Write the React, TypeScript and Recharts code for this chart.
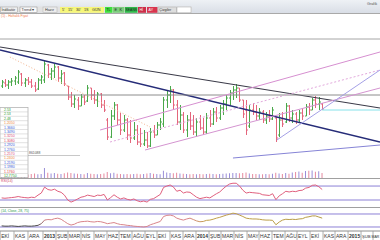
import React from "react";
import { ComposedChart, BarChart, LineChart, Bar, Line, XAxis, YAxis, ReferenceLine, Cell } from "recharts";

const W = 380;
const X_DOMAIN: [number, number] = [-0.5, 114.5];

const highs = [
  170, 171, 170, 172, 174, 180, 177, 172, 173, 171,
  168, 172, 175, 189, 186, 182, 186, 184, 180, 178,
  164, 158, 155, 153, 156, 155, 165, 162, 160, 158,
  157, 150, 132, 140, 148, 146, 137, 135, 132, 130,
  128, 125, 122, 120, 118, 122, 125, 128, 132, 153,
  160, 164, 161, 150, 145, 138, 135, 138, 135, 132,
  135, 132, 137, 140, 142, 143, 145, 150, 155, 160,
  164, 166, 162, 150, 150, 145, 147, 145, 142, 140,
  138, 140, 143, 133, 137, 138, 147, 145, 140, 138,
  140, 142, 146, 147, 152, 154, 153, 147,
];
const lows = [
  162, 163, 161, 164, 165, 166, 164, 163, 165, 162,
  158, 160, 166, 167, 172, 170, 172, 168, 166, 164,
  150, 143, 142, 140, 144, 145, 148, 150, 146, 143,
  142, 138, 110, 112, 130, 125, 115, 118, 110, 107,
  110, 105, 103, 104, 102, 103, 112, 115, 120, 123,
  142, 147, 140, 125, 120, 117, 113, 120, 115, 113,
  120, 115, 116, 123, 125, 128, 130, 135, 140, 145,
  150, 152, 148, 132, 115, 122, 135, 130, 130, 127,
  126, 128, 130, 108, 113, 123, 127, 128, 127, 126,
  128, 130, 134, 135, 140, 142, 140, 140,
];
const opens = [
  164, 167, 165, 168, 169, 168, 176, 167, 170, 168,
  164, 161, 170, 170, 185, 176, 179, 183, 172, 177,
  164, 153, 146, 150, 144, 153, 149, 162, 155, 150,
  156, 145, 130, 113, 134, 145, 130, 120, 130, 115,
  112, 120, 108, 106, 110, 104, 118, 115, 125, 126,
  150, 155, 160, 145, 128, 135, 120, 130, 124, 118,
  128, 122, 118, 132, 126, 138, 132, 142, 146, 152,
  157, 160, 162, 150, 140, 124, 140, 138, 134, 138,
  130, 134, 131, 132, 115, 130, 128, 144, 132, 136,
  130, 137, 134, 143, 140, 150, 146, 146,
];
const closes = [
  168, 165, 168, 169, 172, 178, 167, 170, 168, 164,
  160, 170, 173, 186, 176, 179, 183, 172, 176, 166,
  153, 146, 151, 144, 153, 148, 162, 155, 150, 156,
  145, 140, 113, 134, 145, 130, 120, 130, 115, 112,
  120, 108, 106, 110, 104, 118, 115, 125, 128, 150,
  155, 160, 145, 128, 135, 120, 130, 124, 118, 128,
  122, 118, 132, 126, 138, 132, 142, 146, 152, 157,
  160, 162, 150, 136, 120, 140, 138, 134, 138, 130,
  134, 131, 140, 112, 130, 126, 144, 132, 136, 130,
  137, 134, 143, 140, 150, 146, 148, 141,
];
const volumes = [
  330000, 310000, 350000, 300000, 340000, 420000, 360000, 320000, 300000, 340000,
  380000, 330000, 350000, 861088, 450000, 380000, 420000, 360000, 340000, 400000,
  480000, 440000, 380000, 360000, 350000, 330000, 420000, 360000, 340000, 330000,
  350000, 380000, 520000, 400000, 450000, 360000, 340000, 330000, 350000, 320000,
  340000, 360000, 330000, 350000, 380000, 420000, 360000, 340000, 330000, 620000,
  480000, 420000, 400000, 450000, 380000, 360000, 340000, 330000, 350000, 320000,
  340000, 330000, 350000, 360000, 340000, 330000, 350000, 360000, 380000, 400000,
  420000, 440000, 400000, 420000, 480000, 380000, 350000, 340000, 330000, 320000,
  340000, 330000, 360000, 460000, 380000, 350000, 420000, 360000, 480000, 520000,
  560000, 450000, 600000, 620000, 650000, 540000, 580000, 420000,
];
const rsiValues = [
  36, 35, 36, 37, 38, 40, 38, 37, 36, 38,
  37, 44, 50, 67, 60, 58, 61, 55, 52, 44,
  30, 24, 28, 33, 38, 40, 44, 42, 40, 44,
  43, 46, 30, 37, 45, 38, 33, 36, 32, 30,
  33, 28, 25, 27, 24, 32, 34, 40, 46, 66,
  70, 73, 67, 55, 58, 50, 53, 52, 45, 38,
  34, 36, 38, 36, 42, 48, 53, 62, 70, 76,
  78, 78, 70, 58, 50, 52, 51, 50, 49, 45,
  44, 43, 48, 31, 42, 48, 55, 53, 55, 54,
  57, 58, 64, 66, 72, 73, 68, 60,
];
const stochValues = [
  32, 31, 31, 32, 31, 30, 31, 32, 31, 31,
  32, 34, 40, 53, 55, 54, 58, 60, 56, 48,
  40, 35, 38, 44, 47, 48, 49, 47, 46, 48,
  47, 44, 40, 42, 44, 40, 37, 36, 34, 33,
  31, 30, 29, 28, 30, 36, 40, 44, 48, 66,
  70, 71, 68, 60, 56, 53, 57, 60, 55, 50,
  47, 48, 52, 53, 56, 60, 63, 67, 71, 74,
  78, 76, 71, 66, 60, 58, 57, 57, 56, 54,
  53, 53, 52, 36, 46, 53, 56, 55, 56, 55,
  57, 58, 63, 65, 68, 68, 64, 60,
];

const monthTicks = [
  -0.45, 3.74, 7.97, 12.51, 16.45, 20.08, 24.02, 27.95, 31.88, 35.52,
  39.45, 43.39, 47.02, 50.95, 54.89, 58.82, 62.76, 66.39, 70.32, 74.26,
  77.89, 81.82, 85.76, 89.39, 93.33, 97.26, 100.89, 104.83, 108.76, 112.39,
];
const monthLabels = [
  "EKİ", "KAS", "ARA", "2013", "ŞUB", "MAR", "NİS", "MAY", "HAZ", "TEM",
  "AĞU", "EYL", "EKİ", "KAS", "ARA", "2014", "ŞUB", "MAR", "NİS", "MAY",
  "HAZ", "TEM", "AĞU", "EYL", "EKİ", "KAS", "ARA", "2015", "ŞUB", "MAR",
];

const trendLines = [
  { id: "res1", from: [-0.5, 203], to: [114.5, 142] },
  { id: "res2", from: [-0.5, 200], to: [114.5, 108] },
  { id: "hTop", from: [-0.5, 211], to: [114.5, 211] },
  { id: "hMid", from: [-0.5, 155], to: [114.5, 155] },
  { id: "chUp", from: [29.8, 120], to: [114.5, 198] },
  { id: "chMid", from: [32.8, 108], to: [114.5, 180] },
  { id: "chLow", from: [43.4, 100], to: [114.5, 162] },
  { id: "steep", from: [83.3, 110], to: [114.5, 180] },
  { id: "flat", from: [70.0, 92], to: [114.5, 105] },
  { id: "dotOr", from: [2.5, 193], to: [44.9, 123] },
  { id: "last", from: [97, 140], to: [114.5, 140] },
];
const trendStyle: Record<string, { stroke: string; w: number; dash?: string }> = {
  res1: { stroke: "#3a3a48", w: 1.1 },
  res2: { stroke: "#262c78", w: 1.3 },
  hTop: { stroke: "#a6a6a6", w: 1 },
  hMid: { stroke: "#8c8c8c", w: 1 },
  chUp: { stroke: "#d68fd0", w: 1 },
  chMid: { stroke: "#e2a8dc", w: 1, dash: "2 2" },
  chLow: { stroke: "#d494d0", w: 1 },
  steep: { stroke: "#a4a0e6", w: 1 },
  flat: { stroke: "#8684d6", w: 1 },
  dotOr: { stroke: "#f3b48e", w: 1, dash: "1 2" },
  last: { stroke: "#86e2ea", w: 1 },
};

const tableValues = [
  "2.53", "2.53", "2.48", "1.2050", "1.3660", "1.3490", "1.3250", "1.3080",
  "1.2920", "1.2760", "1.2570", "1.2400", "1.2190", "1.1980", "1.1760", "12.7750",
];
const tableColors = [
  "#2e9e2e", "#2e9e2e", "#2e9e2e", "#f0883c", "#3a5ad8", "#3a5ad8", "#e0507a", "#d94060",
  "#3a5ad8", "#3a5ad8", "#e0507a", "#f0883c", "#3a5ad8", "#3a5ad8", "#e04040", "#2e9e2e",
];

const data = highs.map((h, i) => ({
  i,
  high: h,
  low: lows[i],
  open: opens[i],
  close: closes[i],
  vol: volumes[i],
  rsi: rsiValues[i],
  stoch: stochValues[i],
}));

const UP = "#4aa84a";
const DOWN = "#e4667c";
const FONT = "'Liberation Sans', Arial, sans-serif";

const OhlcShape = (props: any) => {
  const { x, y, width, height, payload } = props;
  if (x == null || y == null) return null;
  const top = Math.min(y, y + height);
  const h = Math.abs(height);
  const range = payload.high - payload.low || 1;
  const yOf = (v: number) => top + ((payload.high - v) / range) * h;
  const cx = Math.round(x + width / 2) + 0.5;
  const color = payload.close >= payload.open ? UP : DOWN;
  return (
    <g stroke={color} strokeWidth={1}>
      <line x1={cx} x2={cx} y1={top} y2={top + h} />
      <line x1={cx - 1.5} x2={cx} y1={yOf(payload.open)} y2={yOf(payload.open)} />
      <line x1={cx} x2={cx + 1.5} y1={yOf(payload.close)} y2={yOf(payload.close)} />
    </g>
  );
};

const MonthTick = (props: any) => {
  const { x, y, payload } = props;
  const idx = monthTicks.indexOf(payload.value);
  const label = idx >= 0 ? monthLabels[idx] : "";
  const isYear = /^\d{4}$/.test(label);
  const isLast = idx === monthTicks.length - 1;
  const isPrev = idx === monthTicks.length - 2;
  return (
    <g>
      <line x1={x} x2={x} y1={y} y2={y + 10} stroke="#9a9a9a" strokeWidth={0.8} />
      <text
        x={isLast ? W - 0.6 : x + 1}
        y={y + 6.6}
        fontSize={isLast ? 3.5 : isPrev ? 4.2 : 5}
        textAnchor={isLast ? "end" : "start"}
        fill="#333"
        fontWeight={isYear ? 700 : 400}
        fontFamily={FONT}
      >
        {label}
      </text>
    </g>
  );
};

const hLine = (top: number, color: string, left = 0, width = W) => (
  <div style={{ position: "absolute", left, top, width, height: 1, background: color }} />
);

export default function App() {
  return (
    <div style={{ position: "absolute", left: 0, top: 0, width: W, height: 240, background: "#fff", overflow: "hidden", fontFamily: FONT }}>
      {/* toolbar */}
      <svg width={W} height={13} style={{ position: "absolute", left: 0, top: 0 }}>
        <defs>
          <linearGradient id="tb" x1="0" y1="0" x2="0" y2="1">
            <stop offset="0" stopColor="#eef1f5" />
            <stop offset="1" stopColor="#d9dee6" />
          </linearGradient>
        </defs>
        <rect x={0} y={0} width={W} height={13} fill="url(#tb)" />
        <rect x={0} y={6.5} width={192} height={6} fill="#e2e2e2" />
        <rect x={0.5} y={7} width={17} height={5.5} fill="#f0f0f0" stroke="#9a9a9a" strokeWidth={0.5} />
        <text x={1.5} y={11.2} fontSize={3.6} fill="#333">İndikatör</text>
        <rect x={20} y={7} width={17} height={5.5} fill="#fafafa" stroke="#8a8a8a" strokeWidth={0.5} />
        <text x={21.5} y={11.2} fontSize={3.8} fill="#333">Trend ▾</text>
        <rect x={43} y={7} width={14} height={5.5} fill="#ececec" stroke="#b0b0b0" strokeWidth={0.5} />
        <text x={45} y={11.2} fontSize={3.8} fill="#333">Hazır</text>
        <rect x={60} y={7} width={44} height={5.8} fill="#f7f77a" />
        <text x={62} y={11.4} fontSize={3.8} fill="#333">5'</text>
        <text x={68} y={11.4} fontSize={3.8} fill="#333">15'</text>
        <text x={76} y={11.4} fontSize={3.8} fill="#333">30'</text>
        <text x={84} y={11.4} fontSize={3.8} fill="#333">1S</text>
        <text x={92} y={11.4} fontSize={3.8} fill="#333">GÜN</text>
        <rect x={105} y={7} width={7.5} height={5.8} fill="#3ee03e" />
        <text x={106.3} y={11.4} fontSize={3.8} fill="#222">TL</text>
        <rect x={113} y={7} width={11.5} height={5.8} fill="#7ccd7c" />
        <text x={114.5} y={11.4} fontSize={3.8} fill="#222">E</text>
        <text x={119.5} y={11.4} fontSize={3.8} fill="#222">K</text>
        <rect x={125} y={7} width={12.5} height={5.8} fill="#2fb84a" />
        <text x={125.6} y={11.4} fontSize={3.4} fill="#222">SEANS</text>
        <rect x={138} y={7} width={8} height={5.8} fill="#cc2e4a" />
        <text x={139.5} y={11.4} fontSize={3.6} fill="#fff">Hİ</text>
        <rect x={147} y={7} width={10.5} height={5.8} fill="#d8344e" />
        <text x={148.5} y={11.4} fontSize={3.6} fill="#fff">AY</text>
        <rect x={158} y={7} width={18.5} height={5.8} fill="#dedede" stroke="#a8a8a8" strokeWidth={0.5} />
        <text x={159.3} y={11.4} fontSize={3.6} fill="#333">Çizgiler</text>
        <rect x={177} y={7} width={14} height={5.8} fill="#ffffff" stroke="#a8a8a8" strokeWidth={0.5} />
        <text x={367} y={4.5} fontSize={3.8} fill="#555">Grafik</text>
      </svg>
      {hLine(12.5, "#a9a9a9")}

      {/* price panel */}
      <div style={{ position: "absolute", left: 0, top: 13 }}>
        <ComposedChart width={W} height={165} data={data} margin={{ top: 0, right: 0, bottom: 0, left: 0 }}>
          <XAxis dataKey="i" type="number" domain={X_DOMAIN} allowDataOverflow hide />
          <YAxis type="number" domain={[72, 237]} allowDataOverflow hide />
          {trendLines.map((t) => {
            const s = trendStyle[t.id];
            return (
              <ReferenceLine
                key={t.id}
                segment={[{ x: t.from[0], y: t.from[1] }, { x: t.to[0], y: t.to[1] }]}
                stroke={s.stroke}
                strokeWidth={s.w}
                strokeDasharray={s.dash}
                ifOverflow="hidden"
              />
            );
          })}
          <Bar dataKey={(d: any) => [d.low, d.high]} barSize={3} shape={<OhlcShape />} isAnimationActive={false} />
        </ComposedChart>
      </div>
      <svg width={80} height={8} style={{ position: "absolute", left: 0, top: 13 }}>
        <text x={1} y={3.8} fontSize={3.4} fill="#f07a4a">(1) - Haftalık Fiyat</text>
      </svg>

      {/* volume overlay */}
      <div style={{ position: "absolute", left: 0, top: 160 }}>
        <BarChart width={W} height={18} data={data} margin={{ top: 0, right: 0, bottom: 0, left: 0 }}>
          <XAxis dataKey="i" type="number" domain={X_DOMAIN} allowDataOverflow hide />
          <YAxis type="number" domain={[0, 1550000]} allowDataOverflow hide />
          <Bar dataKey="vol" barSize={1} isAnimationActive={false}>
            {data.map((d) => (
              <Cell key={d.i} fill={d.close >= d.open ? "#9a8ed8" : "#e58a9f"} />
            ))}
          </Bar>
        </BarChart>
      </div>
      {hLine(154.5, "#c8c8c8", 0, 80)}
      <svg width={20} height={6} style={{ position: "absolute", left: 28, top: 150 }}>
        <text x={1} y={4} fontSize={3.4} fill="#555">861088</text>
      </svg>

      {/* left table */}
      <svg width={29} height={71} style={{ position: "absolute", left: 0, top: 107 }}>
        <rect x={0} y={0.5} width={28} height={70} fill="#fff" stroke="#9a9a9a" strokeWidth={0.6} />
        {tableValues.map((v, k) => (
          <g key={k}>
            <line x1={0} x2={28} y1={0.5 + k * 4.4} y2={0.5 + k * 4.4} stroke="#c4c4c4" strokeWidth={0.5} />
            <text x={4} y={4 + k * 4.4} fontSize={3.5} fill={tableColors[k]}>{v}</text>
          </g>
        ))}
      </svg>

      {hLine(177.5, "#a0a0a0")}
      {/* RSI */}
      <div style={{ position: "absolute", left: 0, top: 178 }}>
        <LineChart width={W} height={29} data={data} margin={{ top: 0, right: 0, bottom: 0, left: 0 }}>
          <XAxis dataKey="i" type="number" domain={X_DOMAIN} allowDataOverflow hide />
          <YAxis type="number" domain={[10, 93]} allowDataOverflow hide />
          <ReferenceLine y={70} stroke="#8c80d6" strokeWidth={1} />
          <ReferenceLine y={30} stroke="#8c80d6" strokeWidth={1} />
          <Line dataKey="rsi" type="linear" stroke="#e0607e" strokeWidth={1} dot={false} isAnimationActive={false} />
        </LineChart>
      </div>
      <svg width={40} height={6} style={{ position: "absolute", left: 0, top: 178 }}>
        <text x={1} y={4.2} fontSize={3.4} fill="#d04466">RSI(14)</text>
      </svg>
      {hLine(207, "#a0a0a0")}

      {/* Stochastic + axis */}
      <div style={{ position: "absolute", left: 0, top: 208 }}>
        <LineChart width={W} height={32} data={data} margin={{ top: 0, right: 0, bottom: 0, left: 0 }}>
          <defs>
            <linearGradient id="stg" x1="0" y1="0" x2="1" y2="0">
              <stop offset="0" stopColor="#4a4a4a" />
              <stop offset="0.11" stopColor="#4a4a4a" />
              <stop offset="0.14" stopColor="#d9848a" />
              <stop offset="0.58" stopColor="#d9848a" />
              <stop offset="0.64" stopColor="#c2a04a" />
              <stop offset="1" stopColor="#b59a44" />
            </linearGradient>
          </defs>
          <XAxis
            dataKey="i"
            type="number"
            domain={X_DOMAIN}
            allowDataOverflow
            ticks={monthTicks}
            interval={0}
            height={9}
            tickSize={0}
            tickMargin={0}
            tickLine={false}
            axisLine={{ stroke: "#8e8e8e" }}
            tick={<MonthTick />}
          />
          <YAxis type="number" domain={[13.5, 96.7]} allowDataOverflow hide />
          <ReferenceLine y={75} stroke="#8c80d6" strokeWidth={1} />
          <ReferenceLine y={28} stroke="#8c80d6" strokeWidth={1} />
          <Line dataKey="stoch" type="linear" stroke="url(#stg)" strokeWidth={1} dot={false} isAnimationActive={false} />
        </LineChart>
      </div>
      <svg width={60} height={6} style={{ position: "absolute", left: 0, top: 208 }}>
        <text x={1} y={4} fontSize={3.4} fill="#2a9a4a">(14, Close, 28, 75)</text>
      </svg>
    </div>
  );
}
